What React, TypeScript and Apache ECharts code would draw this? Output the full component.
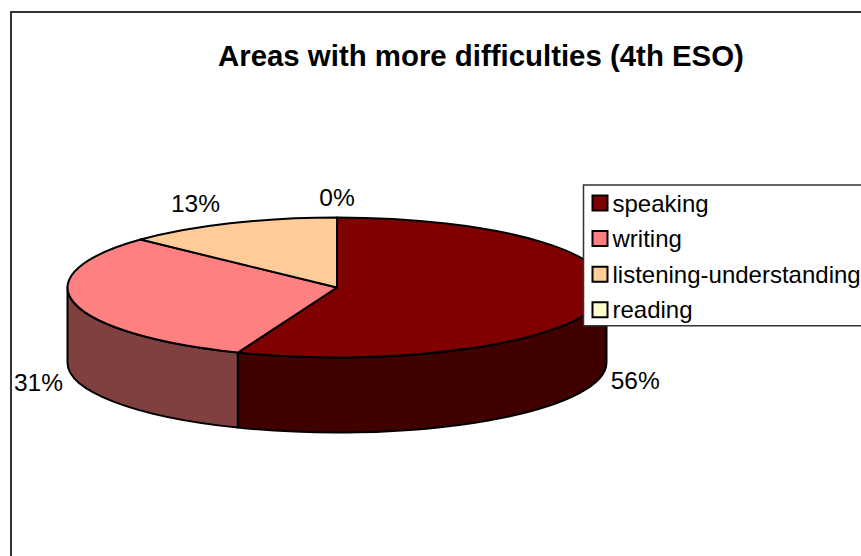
import React, { useEffect, useRef } from "react";
import * as echarts from "echarts";

const categories = ["speaking", "writing", "listening-understanding", "reading"];
const values = [56, 31, 13, 0];
const topColors = ["#800000", "#FF8080", "#FFCC99", "#FFFFCC"];
const wallColors = ["#400000", "#804040", "#806650", "#808066"];

const titleText = "Areas with more difficulties (4th ESO)";
const FONT = '"Liberation Sans", Arial, sans-serif';

// Disc geometry: centre, radii of the top ellipse, height of the wall.
const CX = 337;
const CY = 287.5;
const RX = 269.5;
const RY = 70;
const DEPTH = 75;

const total = values.reduce((a, b) => a + b, 0);

// Angles are measured clockwise from twelve o'clock, on the ellipse's parameter.
const px = (t: number) => CX + RX * Math.sin(t);
const py = (t: number) => CY - RY * Math.cos(t);

const sliceAngles = (index: number) => {
  const before = values.slice(0, index).reduce((a, b) => a + b, 0);
  return [(before / total) * Math.PI * 2, ((before + values[index]) / total) * Math.PI * 2];
};

const topPath = (a: number, b: number) => {
  const large = b - a > Math.PI ? 1 : 0;
  return `M${CX} ${CY}L${px(a)} ${py(a)}A${RX} ${RY} 0 ${large} 1 ${px(b)} ${py(b)}Z`;
};

const wallPath = (a: number, b: number) => {
  const large = b - a > Math.PI ? 1 : 0;
  return (
    `M${px(a)} ${py(a)}A${RX} ${RY} 0 ${large} 1 ${px(b)} ${py(b)}` +
    `L${px(b)} ${py(b) + DEPTH}A${RX} ${RY} 0 ${large} 0 ${px(a)} ${py(a) + DEPTH}Z`
  );
};

const stroke = { stroke: "#000", lineWidth: 2, lineJoin: "round" as const };

const renderSlice = (index: number) => (params: any, api: any) => {
  const value = api.value(0);
  const [a, b] = sliceAngles(index);
  const children: any[] = [];

  // Only the front half of the disc shows a wall.
  const wallStart = Math.max(a, Math.PI / 2);
  const wallEnd = Math.min(b, Math.PI * 1.5);
  if (wallEnd > wallStart) {
    children.push({
      type: "path",
      shape: { pathData: wallPath(wallStart, wallEnd) },
      style: { fill: wallColors[index], ...stroke },
    });
  }
  if (b > a) {
    children.push({
      type: "path",
      shape: { pathData: topPath(a, b) },
      style: { fill: topColors[index], ...stroke },
    });
  }

  // Percentage label beside the slice's middle, below the wall on the front half.
  const mid = (a + b) / 2;
  const side = Math.abs(Math.sin(mid)) < 0.01 ? 0 : Math.sign(Math.sin(mid));
  const front = Math.cos(mid) < 0;
  const gap = front ? (side > 0 ? 9 : 11) : 10;
  children.push({
    type: "text",
    style: {
      x: px(mid) + side * gap,
      y: py(mid) + (front ? DEPTH + 5 : -20),
      text: `${value}%`,
      fill: "#000",
      font: `24.5px ${FONT}`,
      align: side === 0 ? "center" : side > 0 ? "left" : "right",
      verticalAlign: "middle",
    },
  });
  return { type: "group", children };
};

export default function App() {
  const ref = useRef<HTMLDivElement>(null);

  useEffect(() => {
    document.body.style.margin = "0";
    const chart = echarts.init(ref.current!, null, { renderer: "svg" });
    chart.setOption({
      animation: false,
      backgroundColor: "#fff",
      title: {
        text: titleText,
        left: 218,
        top: 41,
        padding: 0,
        textStyle: { fontFamily: FONT, fontSize: 29.4, fontWeight: "bold", color: "#000" },
      },
      legend: {
        orient: "vertical",
        left: 583.5,
        top: 185,
        padding: [6, 40, 4, 8],
        itemGap: 11.6,
        itemWidth: 15,
        itemHeight: 15,
        backgroundColor: "#fff",
        borderColor: "#333",
        borderWidth: 1.5,
        icon: "rect",
        data: categories,
        selectedMode: false,
        textStyle: {
          fontFamily: FONT,
          fontSize: 24,
          lineHeight: 24,
          color: "#000",
        },
      },
      graphic: [
        {
          type: "rect",
          z: -1,
          shape: { x: 11, y: 12, width: 900, height: 600 },
          style: { fill: "none", stroke: "#333", lineWidth: 2 },
        },
      ],
      series: categories.map((name, i) => ({
        type: "custom",
        name,
        coordinateSystem: "none",
        itemStyle: { color: topColors[i], borderColor: "#000", borderWidth: 2 },
        data: [[values[i]]],
        renderItem: renderSlice(i),
      })),
    });
    return () => chart.dispose();
  }, []);

  return <div ref={ref} style={{ width: 861, height: 556 }} />;
}
